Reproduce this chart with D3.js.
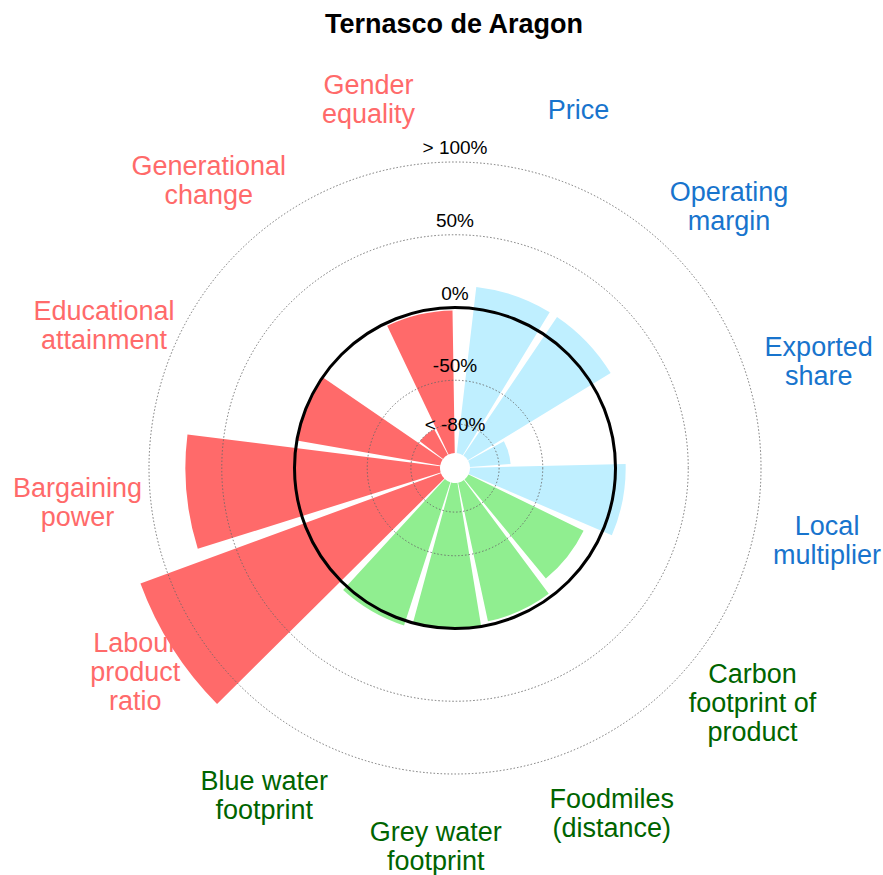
<!DOCTYPE html>
<html>
<head>
<meta charset="utf-8">
<script src="https://cdn.jsdelivr.net/npm/d3@7"></script>
<style>
  body { margin: 0; background: #fff; }
  text { font-family: "Liberation Sans", Arial, sans-serif; }
</style>
</head>
<body>
<script>
(function() {

// indicator names, as they appear round the chart
var categories = [
  "Price", "Operating margin", "Exported share", "Local multiplier",
  "Carbon footprint of product", "Foodmiles (distance)", "Grey water footprint",
  "Blue water footprint", "Labour product ratio", "Bargaining power",
  "Educational attainment", "Generational change", "Gender equality"
];

// how each name is broken on the picture
var labelLines = [
  ["Price"], ["Operating", "margin"], ["Exported", "share"], ["Local", "multiplier"],
  ["Carbon", "footprint of", "product"], ["Foodmiles", "(distance)"], ["Grey water", "footprint"],
  ["Blue water", "footprint"], ["Labour", "product", "ratio"], ["Bargaining", "power"],
  ["Educational", "attainment"], ["Generational", "change"], ["Gender", "equality"]
];

var groups = [
  "economic", "economic", "economic", "economic",
  "environmental", "environmental", "environmental", "environmental",
  "social", "social", "social", "social", "social"
];

// % difference
var values = [15, 15, -72, 7, -12, -2.5, -0.5, 3.5, 120, 75, 0, -80, -2];

var tickValues  = [-80, -50, 0, 50, 100];
var tickLabels  = ["< -80%", "-50%", "0%", "50%", "> 100%"];
var tickLabelAt = [-80, -40, 10, 60, 110];

var fill = { economic: "#BFEFFF", environmental: "#90EE90", social: "#FF6A6A" };
var ink  = { economic: "#1874CD", environmental: "#006400", social: "#FF6A6A" };

var width = 883, height = 875,
    cx = 455, cy = 468,
    deg = Math.PI / 180,
    labelR = 379, lineH = 29;

var angle = d3.scalePoint()
  .domain(categories)
  .range([19 * deg, 346.8 * deg]);

var half = angle.step() * 0.45;

var r = d3.scaleLinear()
  .domain([-100, 100])
  .range([15, 306]);

var data = categories.map(function(c, i) {
  return { name: c, lines: labelLines[i], group: groups[i], value: values[i] };
});

var svg = d3.select("body").append("svg")
  .attr("width", width)
  .attr("height", height);

svg.append("text")
  .attr("x", cx - 1)
  .attr("y", 33)
  .attr("text-anchor", "middle")
  .attr("font-size", 27)
  .attr("font-weight", "bold")
  .text("Ternasco de Aragon");

var g = svg.append("g")
  .attr("transform", "translate(" + cx + "," + cy + ")");

var arc = d3.arc()
  .innerRadius(r(-100))
  .outerRadius(function(d) { return r(d.value); })
  .startAngle(function(d) { return angle(d.name) - half; })
  .endAngle(function(d) { return angle(d.name) + half; });

// bars
g.selectAll("path.bar")
  .data(data)
  .enter()
  .append("path")
    .attr("class", "bar")
    .attr("d", arc)
    .attr("fill", function(d) { return fill[d.group]; });

// grid rings, dotted except the 0% one
g.selectAll("circle.ring")
  .data(tickValues)
  .enter()
  .append("circle")
    .attr("class", "ring")
    .attr("r", function(d) { return r(d); })
    .attr("fill", "none")
    .attr("stroke", function(d) { return d === 0 ? "#000" : "#666"; })
    .attr("stroke-width", function(d) { return d === 0 ? 3 : 0.9; })
    .attr("stroke-dasharray", function(d) { return d === 0 ? null : "1.5,2"; });

// hole in the middle
g.append("circle")
  .attr("r", 13)
  .attr("fill", "#fff");

// ring labels
g.selectAll("text.tick")
  .data(tickLabels)
  .enter()
  .append("text")
    .attr("class", "tick")
    .attr("x", 0)
    .attr("y", function(d, i) { return -r(tickLabelAt[i]); })
    .attr("dy", "0.35em")
    .attr("text-anchor", "middle")
    .attr("font-size", 19)
    .text(function(d) { return d; });

// indicator names round the outside
var labels = g.selectAll("text.cat")
  .data(data)
  .enter()
  .append("text")
    .attr("class", "cat")
    .attr("text-anchor", "middle")
    .attr("font-size", 27)
    .attr("fill", function(d) { return ink[d.group]; })
    .attr("transform", function(d) {
      var a = angle(d.name);
      return "translate(" + (labelR * Math.sin(a)) + "," + (-labelR * Math.cos(a)) + ")";
    });

labels.selectAll("tspan")
  .data(function(d) { return d.lines.map(function(l, i) { return [l, i, d.lines.length]; }); })
  .enter()
  .append("tspan")
    .attr("x", 0)
    .attr("y", function(d) { return (d[1] - (d[2] - 1) / 2) * lineH; })
    .attr("dy", "0.35em")
    .text(function(d) { return d[0]; });

})();
</script>
</body>
</html>
